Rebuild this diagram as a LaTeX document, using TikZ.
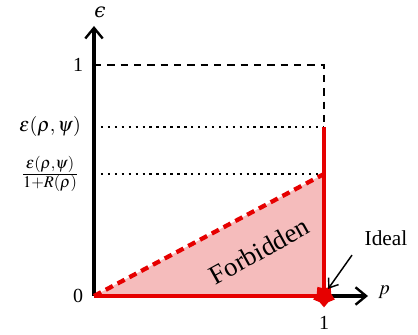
\documentclass[tikz,border=0pt]{standalone}
\usepackage{mathptmx}
\usepackage{fontspec}
\setmainfont{Liberation Serif}
\newfontfamily\greekserif{DejaVu Serif}
\usepackage{tikz}
\usetikzlibrary{positioning,arrows.meta,shapes.geometric,calc}
\definecolor{ideared}{RGB}{230,0,0}
\definecolor{forbpink}{RGB}{245,188,188}
\tikzset{
  axis/.style   = {line width=2.5pt, -{Straight Barb[length=2.8mm,width=4.6mm,line width=1.8pt]}},
  guide/.style  = {line width=1.8pt, dash pattern=on 5.5pt off 4.5pt},
  dotline/.style= {line width=1.8pt, dash pattern=on 1.8pt off 3.4pt},
  bound/.style  = {ideared, line width=3.2pt},
  lbl/.style    = {font=\fontsize{15}{18}\selectfont, inner sep=1pt},
}

\begin{document}
\begin{tikzpicture}[x=0.75pt, y=-0.75pt]
  \useasboundingbox (0,0) rectangle (418,335);
  \coordinate (O) at (94,296);
  \coordinate (P1) at (324,296);
  \coordinate (Ytop) at (94,26);
  \coordinate (Xend) at (368,296);
  \coordinate (E1) at (94,65);
  \coordinate (C1) at (324,65);
  \coordinate (Eps) at (94,127);
  \coordinate (C2) at (324,127);
  \coordinate (Frac) at (94,174);
  \coordinate (C3) at (324,174);
  % forbidden region
  \fill[forbpink] (O) -- (C3) -- (P1) -- cycle;
  % guide lines
  \draw[guide] (E1) -- (C1) -- (C2);
  \draw[dotline] (Eps) -- (C2);
  \draw[dotline] (Frac) -- (C3);
  % axes
  \draw[axis] (O) -- (Ytop);
  \draw[axis] (O) -- (Xend);
  % boundary
  \draw[ideared, line width=3.2pt, dash pattern=on 6pt off 4pt] (O) -- (C3);
  \draw[bound] (C2) -- (P1) -- (O);
  \node[star, star points=5, shape border rotate=180, fill=ideared, minimum size=17pt, inner sep=0pt] (ideal) at (P1) {};
  % labels
  \node[lbl] (eaxis) at (100,12) {\greekserif\itshape ϵ};
  \node[lbl] (paxis) at (384,292) {$p$};
  \node[lbl] (zero) at (78,296) {0};
  \node[lbl] (one) at (78,65) {1};
  \node[lbl] (pone) at (324,323) {1};
  \node[lbl] (elbl) at (50,127) {$\varepsilon(\rho,\psi)$};
  \node[lbl, font=\fontsize{16.5}{19}\selectfont] (flbl) at (50,174) {$\frac{\varepsilon(\rho,\psi)}{1+R(\rho)}$};
  \node[lbl, font=\fontsize{20}{24}\selectfont, rotate=29] (forb) at (259,251) {Forbidden};
  \node[lbl, font=\fontsize{16}{19}\selectfont] (ilbl) at (386,238) {Ideal};
  \draw[-{Straight Barb[length=2.2mm,width=3.2mm]}, line width=1.1pt] ($(ilbl.south)+(-34,8)$) -- ($(ideal.north east)+(-3,0)$);
\end{tikzpicture}
\end{document}
